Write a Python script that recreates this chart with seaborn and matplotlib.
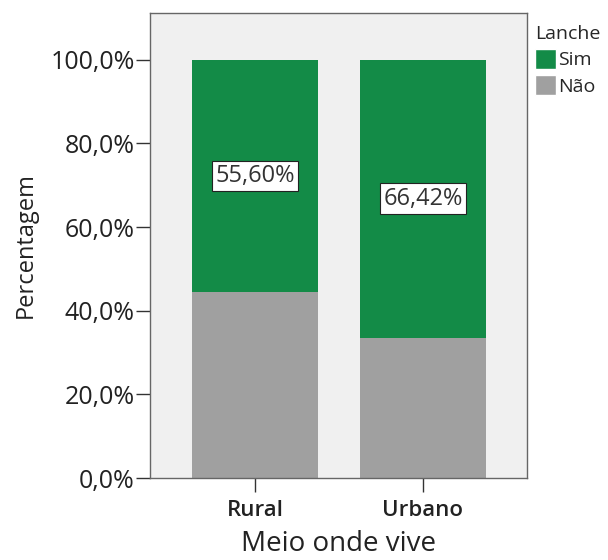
import matplotlib
matplotlib.use('Agg')
import matplotlib.pyplot as plt
import seaborn as sns
import pandas as pd
from matplotlib.patches import Patch

categorias = ['Rural', 'Urbano']
sim = [55.60, 66.42]
nao = [44.40, 33.58]
rotulos = ['55,60%', '66,42%']
yticks = [0, 20, 40, 60, 80, 100]
ytick_labels = ['0,0%', '20,0%', '40,0%', '60,0%', '80,0%', '100,0%']

verde = '#138b47'
cinza = '#a0a0a0'

sns.set_style('white')
plt.rcParams['font.family'] = ['Open Sans', 'DejaVu Sans']

df = pd.DataFrame({'meio': categorias, 'sim': sim, 'nao': nao})
df['total'] = df['sim'] + df['nao']

fig = plt.figure(figsize=(6.08, 5.60), dpi=100)
ax = fig.add_axes([0.2467, 0.1464, 0.62, 0.8304])
ax.set_facecolor('#f0f0f0')

sns.barplot(data=df, x='meio', y='total', color=verde, width=0.75,
            saturation=1, ax=ax, edgecolor='none')
sns.barplot(data=df, x='meio', y='nao', color=cinza, width=0.75,
            saturation=1, ax=ax, edgecolor='none')

for i, row in df.iterrows():
    ax.text(i, row['nao'] + row['sim'] / 2, rotulos[i], ha='center', va='center',
            fontsize=17, color='#333333',
            bbox=dict(boxstyle='square,pad=0.14', fc='white', ec='#222222', lw=0.8))

ax.set_xlim(-0.625, 1.62)
ax.set_ylim(0, 111.2)
ax.set_yticks(yticks)
ax.set_yticklabels(ytick_labels, fontsize=18, color='#222222')
ax.set_xticks(range(len(categorias)))
ax.set_xticklabels(categorias, fontsize=16, fontweight='semibold', color='#222222')
ax.tick_params(axis='both', direction='out', length=10, width=1, color='#333333',
               left=True, bottom=True, pad=1)
ax.tick_params(axis='x', pad=6)
ax.set_xlabel('Meio onde vive', fontsize=20, color='#222222', labelpad=6)
ax.set_ylabel('Percentagem', fontsize=17, color='#222222', labelpad=9)
for s in ax.spines.values():
    s.set_color('#666666')
    s.set_linewidth(1)

handles = [Patch(facecolor=verde, label='Sim'), Patch(facecolor=cinza, label='Não')]
leg = fig.legend(handles=handles, title='Lanche', loc='upper left',
                 bbox_to_anchor=(0.858, 0.98), frameon=False, fontsize=14,
                 title_fontsize=14, handlelength=1.05, handleheight=1.2,
                 handletextpad=0.1, labelspacing=0.3, borderpad=0.2)
leg._legend_box.align = 'left'

fig.savefig('out.png', dpi=100)
